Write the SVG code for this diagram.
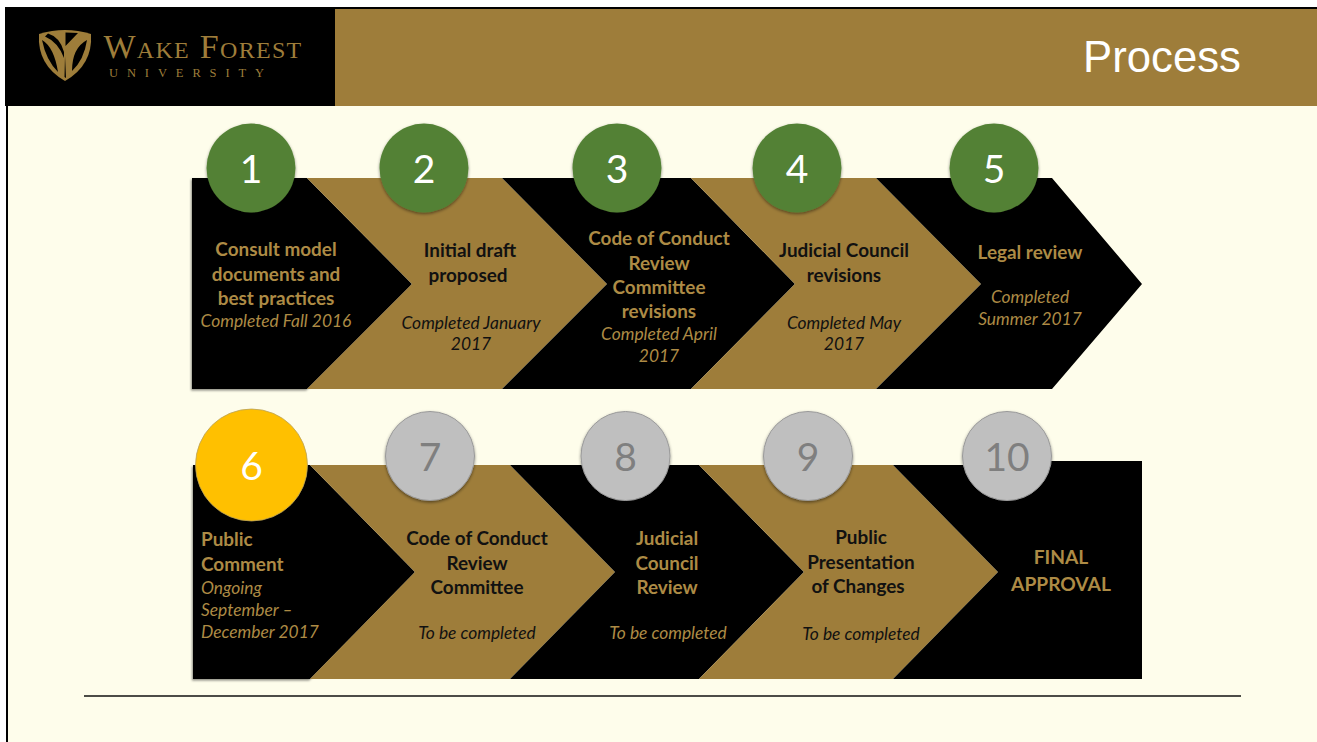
<svg xmlns="http://www.w3.org/2000/svg" width="1317" height="742" viewBox="0 0 1317 742">
<defs>
<filter id="sh" x="-20%" y="-20%" width="140%" height="140%"><feDropShadow dx="0" dy="1.5" stdDeviation="1.5" flood-color="#000" flood-opacity="0.45"/></filter>
<filter id="sl" x="-5%" y="-5%" width="110%" height="110%"><feDropShadow dx="-1" dy="1.5" stdDeviation="1" flood-color="#000" flood-opacity="0.45"/></filter>
</defs>
<style>
text{font-family:Lato,Carlito,"Open Sans",sans-serif;text-anchor:middle}
.k{fill:#000}.g{fill:#9E7D3A}
.t{font-size:18.9px;font-weight:700}
.i{font-size:17.4px;font-style:italic}
.tg{fill:#AD8B45}.tk{fill:#111}
.n{font-size:39px}
.cg{fill:#538135}.cs{fill:#BFBFBF;stroke:#9a9a9a;stroke-width:1}
.nw{fill:#fff}.ns{fill:#7F7F7F}
.s{text-anchor:start}
</style>
<rect width="1317" height="742" fill="#FEFDEB"/>
<rect x="0" y="0" width="1317" height="7" fill="#fff"/>
<rect x="0" y="0" width="6" height="742" fill="#fff"/>
<rect x="6" y="7" width="2" height="735" fill="#000"/>
<g id="header">
<rect x="335" y="8" width="982" height="98" class="g"/>
<rect x="335" y="7" width="982" height="2" fill="#000"/>
<rect x="5" y="7" width="330" height="99" fill="#000"/>
<text x="1162" y="72" style="font-family:'Liberation Sans',sans-serif;font-size:43.7px" fill="#fff">Process</text>
</g>
<g id="logo">
<path class="g" d="M39 34Q65 26 91 34Q93 65 65 81Q37 65 39 34Z"/>
<path fill="#000" d="M65.500 32.500L78 33L65.500 46ZM48 33.500Q60 37 64 52L64 58Q58 42 45 36.500ZM42 40Q54 47 58 72Q46 60 42 40ZM87 40Q72 48 72 71Q84 60 87 40ZM65 56L66 78L64.500 77Z"/>
<text x="203" y="57.500" style="font-family:'Liberation Serif',serif;font-size:34px;font-variant:small-caps;letter-spacing:1.300px" fill="#9E7D3A">Wake Forest</text>
<text x="191" y="76.500" style="font-family:'Liberation Serif',serif;font-size:12.5px;letter-spacing:8.900px" fill="#9E7D3A">UNIVERSITY</text>
</g>
<g id="step1"><polygon class="k" filter="url(#sl)" points="192,178 307,178 412,284 307,389 192,389"/>
<text class="t tg" x="276" y="255.500">Consult model</text><text class="t tg" x="276" y="280.500">documents and</text><text class="t tg" x="276" y="304.500">best practices</text><text class="i tg" x="276" y="326.500">Completed Fall 2016</text></g>
<g id="step2"><polygon class="g" points="307,178 502,178 607,284 502,389 307,389 412,284"/>
<text class="t tk" x="470" y="256.500">Initial draft</text><text class="t tk" x="468" y="281.500">proposed</text><text class="i tk" x="471" y="328.500">Completed January</text><text class="i tk" x="471" y="349.500">2017</text></g>
<g id="step3"><polygon class="k" points="502,178 691,178 795,284 691,389 502,389 607,284"/>
<text class="t tg" x="659" y="244.500">Code of Conduct</text><text class="t tg" x="659" y="269.500">Review</text><text class="t tg" x="659" y="293.500">Committee</text><text class="t tg" x="659" y="318">revisions</text><text class="i tg" x="659" y="340">Completed April</text><text class="i tg" x="659" y="362">2017</text></g>
<g id="step4"><polygon class="g" points="691,178 876,178 981,284 876,389 691,389 795,284"/>
<text class="t tk" x="844" y="256.500">Judicial Council</text><text class="t tk" x="844" y="281.500">revisions</text><text class="i tk" x="844" y="328.500">Completed May</text><text class="i tk" x="844" y="349.500">2017</text></g>
<g id="step5"><polygon class="k" points="876,178 1052,178 1142,284 1052,389 876,389 981,284"/>
<text class="t tg" x="1030" y="258.500">Legal review</text><text class="i tg" x="1030" y="302.500">Completed</text><text class="i tg" x="1030" y="324.500">Summer 2017</text></g>
<g id="step6"><polygon class="k" filter="url(#sl)" points="193,465 310,465 415,572 310,679 193,679"/>
<text class="t tg s" x="201" y="545.500">Public</text><text class="t tg s" x="201" y="570.500">Comment</text><text class="i tg s" x="201" y="593.500">Ongoing</text><text class="i tg s" x="201" y="615.500">September –</text><text class="i tg s" x="201" y="637.500">December 2017</text></g>
<g id="step7"><polygon class="g" points="310,465 510,465 615,572 510,679 310,679 415,572"/>
<text class="t tk" x="477" y="544.500">Code of Conduct</text><text class="t tk" x="477" y="569.500">Review</text><text class="t tk" x="477" y="593.500">Committee</text><text class="i tk" x="477" y="638.500">To be completed</text></g>
<g id="step8"><polygon class="k" points="510,465 699,465 804,572 699,679 510,679 615,572"/>
<text class="t tg" x="667" y="544.500">Judicial</text><text class="t tg" x="667" y="569.500">Council</text><text class="t tg" x="667" y="593.500">Review</text><text class="i tg" x="668" y="638.500">To be completed</text></g>
<g id="step9"><polygon class="g" points="699,465 893,465 998,572 893,679 699,679 804,572"/>
<text class="t tk" x="861" y="543.500">Public</text><text class="t tk" x="861" y="568.500">Presentation</text><text class="t tk" x="858" y="592.500">of Changes</text><text class="i tk" x="861" y="639.500">To be completed</text></g>
<g id="step10"><polygon class="k" points="893,465 1007,465 1007,461 1142,461 1142,679 893,679 998,572"/>
<text class="t tg" x="1061" y="563.500" style="font-size:19.200px">FINAL</text><text class="t tg" x="1061" y="590.500" style="font-size:19.200px">APPROVAL</text></g>
<g id="badge1"><circle class="cg" filter="url(#sh)" cx="251" cy="168" r="44.5"/><text class="n nw" x="251" y="183">1</text></g>
<g id="badge2"><circle class="cg" filter="url(#sh)" cx="424" cy="168" r="44.5"/><text class="n nw" x="424" y="183">2</text></g>
<g id="badge3"><circle class="cg" filter="url(#sh)" cx="617" cy="168" r="44.5"/><text class="n nw" x="617" y="183">3</text></g>
<g id="badge4"><circle class="cg" filter="url(#sh)" cx="797" cy="168" r="44.5"/><text class="n nw" x="797" y="183">4</text></g>
<g id="badge5"><circle class="cg" filter="url(#sh)" cx="994" cy="168" r="44.5"/><text class="n nw" x="994" y="183">5</text></g>
<g id="badge6"><circle fill="#FFC000" stroke="#b9a25a" stroke-width="0.8" cx="251.500" cy="465" r="56"/><text class="n nw" x="251.500" y="480">6</text></g>
<g id="badge7"><circle class="cs" filter="url(#sh)" cx="430" cy="456" r="44.500"/><text class="n ns" x="430" y="471">7</text></g>
<g id="badge8"><circle class="cs" filter="url(#sh)" cx="625.500" cy="456" r="44.500"/><text class="n ns" x="625.500" y="471">8</text></g>
<g id="badge9"><circle class="cs" filter="url(#sh)" cx="808" cy="456" r="44.500"/><text class="n ns" x="808" y="471">9</text></g>
<g id="badge10"><circle class="cs" filter="url(#sh)" cx="1007" cy="456" r="44.500"/><text class="n ns" x="1007" y="471">10</text></g>
<line x1="84" y1="696" x2="1241" y2="696" stroke="#111" stroke-width="1.300"/>
</svg>
